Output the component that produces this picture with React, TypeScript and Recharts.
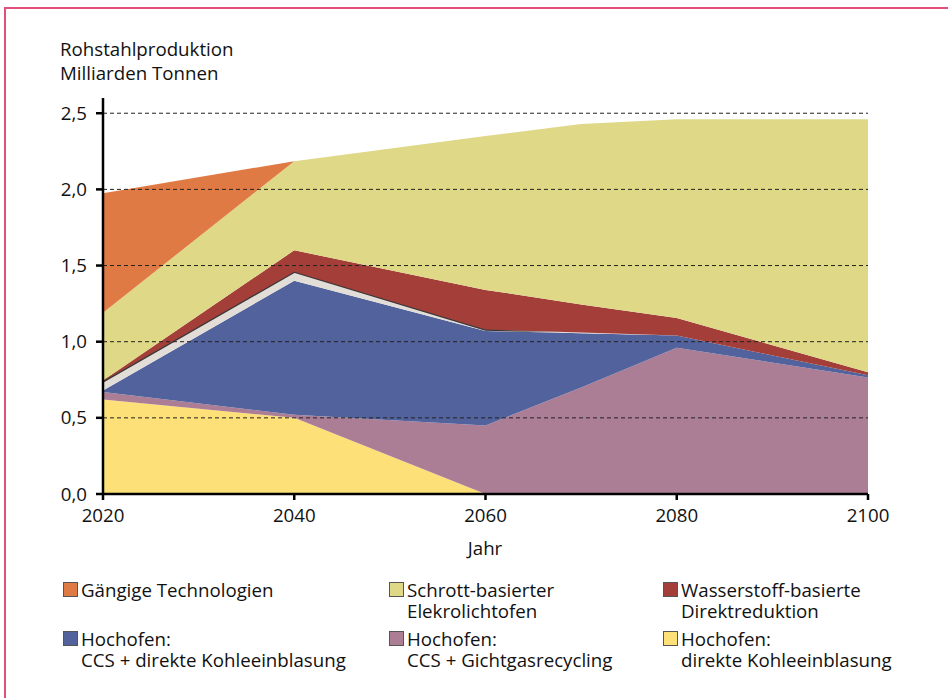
import React from "react";
import {
  AreaChart,
  Area,
  XAxis,
  YAxis,
  ReferenceLine,
} from "recharts";

// years incl. 2070 where the top edge bends
const years = [2020, 2040, 2060, 2070, 2080, 2100];

// stacked values, bottom to top (Mrd. t)
const kohleeinblasung = [0.62, 0.5, 0, 0, 0, 0];
const gichtgas = [0.05, 0.02, 0.45, 0.7, 0.96, 0.765];
const ccsKohle = [0.01, 0.88, 0.62, 0.355, 0.08, 0.015];
const uebergang = [0.06, 0.06, 0.01, 0.005, 0, 0];
const wasserstoff = [0.005, 0.14, 0.26, 0.185, 0.115, 0.02];
const schrott = [0.445, 0.585, 1.01, 1.185, 1.305, 1.66];
const gaengig = [0.785, 0, 0, 0, 0, 0];

const yTicks = [0, 0.5, 1, 1.5, 2, 2.5];
const xTicks = [2020, 2040, 2060, 2080, 2100];

const data = years.map((year, i) => ({
  year,
  kohleeinblasung: kohleeinblasung[i],
  gichtgas: gichtgas[i],
  ccsKohle: ccsKohle[i],
  uebergang: uebergang[i],
  wasserstoff: wasserstoff[i],
  schrott: schrott[i],
  gaengig: gaengig[i],
}));

const colors = {
  gaengig: "#e07a44",
  schrott: "#ded887",
  wasserstoff: "#a43e39",
  ccsKohle: "#52629c",
  gichtgas: "#ac7e96",
  kohleeinblasung: "#fde077",
  uebergang: "#e3ddd8",
};

const legendItems = [
  { color: colors.gaengig, lines: ["Gängige Technologien"], x: 63, y: 579 },
  { color: colors.schrott, lines: ["Schrott-basierter", "Elekrolichtofen"], x: 389, y: 579 },
  { color: colors.wasserstoff, lines: ["Wasserstoff-basierte", "Direktreduktion"], x: 663, y: 579 },
  { color: colors.ccsKohle, lines: ["Hochofen:", "CCS + direkte Kohleeinblasung"], x: 63, y: 628 },
  { color: colors.gichtgas, lines: ["Hochofen:", "CCS + Gichtgasrecycling"], x: 389, y: 628 },
  { color: colors.kohleeinblasung, lines: ["Hochofen:", "direkte Kohleeinblasung"], x: 663, y: 628 },
];

const font = "'Open Sans', 'Noto Sans', sans-serif";
const fs = 18.7;

export default function App() {
  const tickStyle = { fill: "#111", fontSize: fs, fontFamily: font };
  return (
    <div
      style={{
        position: "absolute",
        left: 0,
        top: 0,
        width: 948,
        height: 698,
        overflow: "hidden",
        background: "#fff",
        fontFamily: font,
        color: "#111",
      }}
    >
      <div
        style={{
          position: "absolute",
          left: 4,
          top: 7,
          width: 1000,
          height: 800,
          border: "2px solid #e14f7b",
          boxSizing: "border-box",
        }}
      />
      <div style={{ position: "absolute", left: 60, top: 37, fontSize: fs, lineHeight: "24px" }}>
        Rohstahlproduktion
        <br />
        Milliarden Tonnen
      </div>
      <div style={{ position: "absolute", left: 0, top: 0 }}>
        <AreaChart
          width={948}
          height={560}
          data={data}
          margin={{ top: 98, right: 80, left: 0, bottom: 26 }}
        >
          <defs>
            <linearGradient id="edgeLine" x1="0" y1="0" x2="1" y2="0">
              <stop offset="0" stopColor="#3b3838" stopOpacity={1} />
              <stop offset="0.52" stopColor="#3b3838" stopOpacity={1} />
              <stop offset="0.6" stopColor="#3b3838" stopOpacity={0} />
              <stop offset="1" stopColor="#3b3838" stopOpacity={0} />
            </linearGradient>
          </defs>
          <XAxis
            dataKey="year"
            type="number"
            domain={[2020, 2100]}
            ticks={xTicks}
            height={40}
            tickSize={6}
            tickMargin={9}
            axisLine={{ stroke: "#000", strokeWidth: 2.5 }}
            tickLine={{ stroke: "#000", strokeWidth: 2.5 }}
            tick={tickStyle}
            interval={0}
          />
          <YAxis
            type="number"
            domain={[0, 2.6]}
            ticks={yTicks}
            width={103}
            tickSize={7}
            tickMargin={9}
            axisLine={{ stroke: "#000", strokeWidth: 2.5 }}
            tickLine={{ stroke: "#000", strokeWidth: 2.5 }}
            tick={tickStyle}
            tickFormatter={(v: number) => v.toFixed(1).replace(".", ",")}
            interval={0}
          />
          <Area type="linear" dataKey="kohleeinblasung" stackId="1" stroke="none" fill={colors.kohleeinblasung} fillOpacity={1} isAnimationActive={false} />
          <Area type="linear" dataKey="gichtgas" stackId="1" stroke="none" fill={colors.gichtgas} fillOpacity={1} isAnimationActive={false} />
          <Area type="linear" dataKey="ccsKohle" stackId="1" stroke="none" fill={colors.ccsKohle} fillOpacity={1} isAnimationActive={false} />
          <Area type="linear" dataKey="uebergang" stackId="1" stroke="url(#edgeLine)" strokeWidth={2.5} fill={colors.uebergang} fillOpacity={1} isAnimationActive={false} />
          <Area type="linear" dataKey="wasserstoff" stackId="1" stroke="none" fill={colors.wasserstoff} fillOpacity={1} isAnimationActive={false} />
          <Area type="linear" dataKey="schrott" stackId="1" stroke="none" fill={colors.schrott} fillOpacity={1} isAnimationActive={false} />
          <Area type="linear" dataKey="gaengig" stackId="1" stroke="none" fill={colors.gaengig} fillOpacity={1} isAnimationActive={false} />
          {yTicks.slice(1).map((t) => (
            <ReferenceLine key={t} y={t} stroke="#222" strokeWidth={1} strokeDasharray="4 3" />
          ))}
        </AreaChart>
      </div>
      <div style={{ position: "absolute", left: 445, top: 535, width: 80, textAlign: "center", fontSize: fs }}>
        Jahr
      </div>
      {legendItems.map((item) => (
        <div key={item.lines.join()} style={{ position: "absolute", left: item.x, top: item.y, fontSize: fs, lineHeight: "21px" }}>
          <div
            style={{
              position: "absolute",
              left: 0,
              top: 3,
              width: 15,
              height: 15,
              boxSizing: "border-box",
              background: item.color,
              border: "1px solid #555",
            }}
          />
          <div style={{ marginLeft: 18, whiteSpace: "nowrap" }}>
            {item.lines.map((l) => (
              <div key={l}>{l}</div>
            ))}
          </div>
        </div>
      ))}
    </div>
  );
}
